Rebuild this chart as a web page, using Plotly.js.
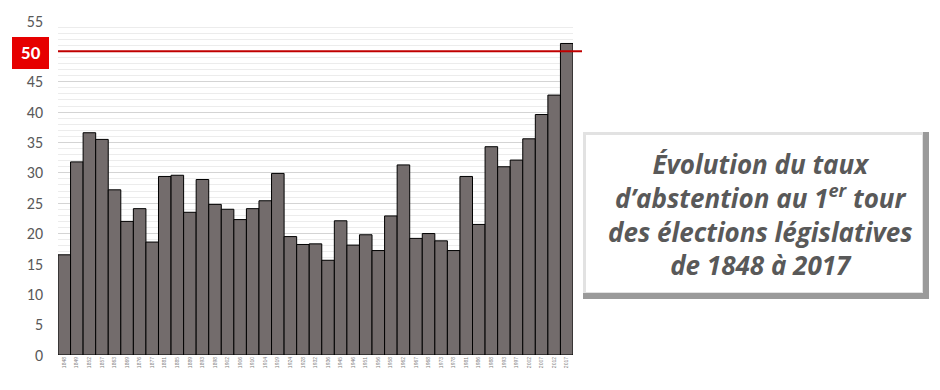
<!DOCTYPE html>
<html>
<head>
<meta charset="utf-8">
<script src="https://cdn.plot.ly/plotly-3.0.1.min.js"></script>
<style>html,body{margin:0;padding:0;background:#fff;}#chart{width:940px;height:390px;}</style>
</head>
<body>
<div id="chart"></div>
<script>
const years = ["1848","1849","1852","1857","1863","1869","1876","1877","1881","1885","1889","1893","1898","1902","1906","1910","1914","1919","1924","1928","1932","1936","1945","1946","1951","1956","1958","1962","1967","1968","1973","1978","1981","1986","1988","1993","1997","2002","2007","2012","2017"];
const abstention = [16.5,31.8,36.6,35.5,27.2,22.0,24.1,18.6,29.4,29.6,23.5,28.9,24.8,24.0,22.3,24.1,25.4,29.9,19.5,18.2,18.3,15.6,22.1,18.1,19.8,17.2,22.9,31.3,19.2,20.0,18.8,17.2,29.4,21.5,34.3,31.0,32.1,35.6,39.6,42.8,51.3];
const yTicks = [0,5,10,15,20,25,30,35,40,45,55];
const threshold = 50;
const titleLines = ["Évolution du taux","d’abstention au 1<sup>er</sup> tour","des élections législatives","de 1848 à 2017"];

const L = 58, R = 573, T = 21, B = 355, W = 940, H = 390;
const px = x => (x - L) / (R - L);
const py = y => (B - y) / (B - T);

const trace = {
  type: 'bar', x: years, y: abstention,
  marker: {color: '#736c6c', line: {color: '#000000', width: 1}},
  hoverinfo: 'x+y'
};

const layout = {
  width: W, height: H,
  margin: {l: L, r: W - R, t: T, b: H - B, pad: 0},
  paper_bgcolor: '#ffffff', plot_bgcolor: '#ffffff',
  bargap: 0,
  showlegend: false,
  xaxis: {
    type: 'category', tickangle: -90, tickfont: {size: 5, color: '#7f7f7f', family: 'Liberation Sans'},
    showgrid: false, showline: false, ticks: '', ticklen: 0
  },
  yaxis: {
    range: [0, 55], tickvals: yTicks, ticktext: yTicks.map(String),
    tickfont: {size: 16, color: '#595959', family: 'Carlito, Lato, sans-serif'},
    showgrid: true, gridcolor: '#d4d4d4', gridwidth: 1,
    minor: {dtick: 1, showgrid: true, gridcolor: '#ececec', gridwidth: 1},
    zeroline: false, showline: false, ticks: '', ticklabelstandoff: 14
  },
  shapes: [
    {type: 'line', xref: 'paper', yref: 'y', x0: 0, x1: px(582), y0: threshold, y1: threshold,
     line: {color: '#c00000', width: 2}},
    {type: 'rect', xref: 'paper', yref: 'paper', x0: px(12), x1: px(49), y0: py(69), y1: py(37),
     fillcolor: '#e60000', line: {width: 0}},
    // bevelled text box
    {type: 'rect', xref: 'paper', yref: 'paper', x0: px(583), x1: px(929), y0: py(299), y1: py(132),
     fillcolor: '#9a9a9a', line: {width: 0}},
    {type: 'rect', xref: 'paper', yref: 'paper', x0: px(583), x1: px(923), y0: py(293), y1: py(132),
     fillcolor: '#e2e2e2', line: {width: 0}},
    {type: 'rect', xref: 'paper', yref: 'paper', x0: px(586), x1: px(922), y0: py(292), y1: py(135),
     fillcolor: '#ffffff', line: {width: 0}}
  ],
  annotations: [
    {xref: 'paper', yref: 'paper', x: px(30.5), y: py(53), text: '<b>50</b>', showarrow: false,
     font: {size: 19, color: '#ffffff', family: 'Carlito, Lato, sans-serif'}, xanchor: 'center', yanchor: 'middle'},
    {xref: 'paper', yref: 'paper', x: px(760), y: py(214), showarrow: false,
     text: '<b><i>' + titleLines.join('<br>') + '</i></b>', align: 'center',
     font: {size: 26, color: '#595959', family: 'Open Sans, sans-serif'}, xanchor: 'center', yanchor: 'middle'}
  ]
};

Plotly.newPlot('chart', [trace], layout, {displayModeBar: false, staticPlot: true});
</script>
</body>
</html>
